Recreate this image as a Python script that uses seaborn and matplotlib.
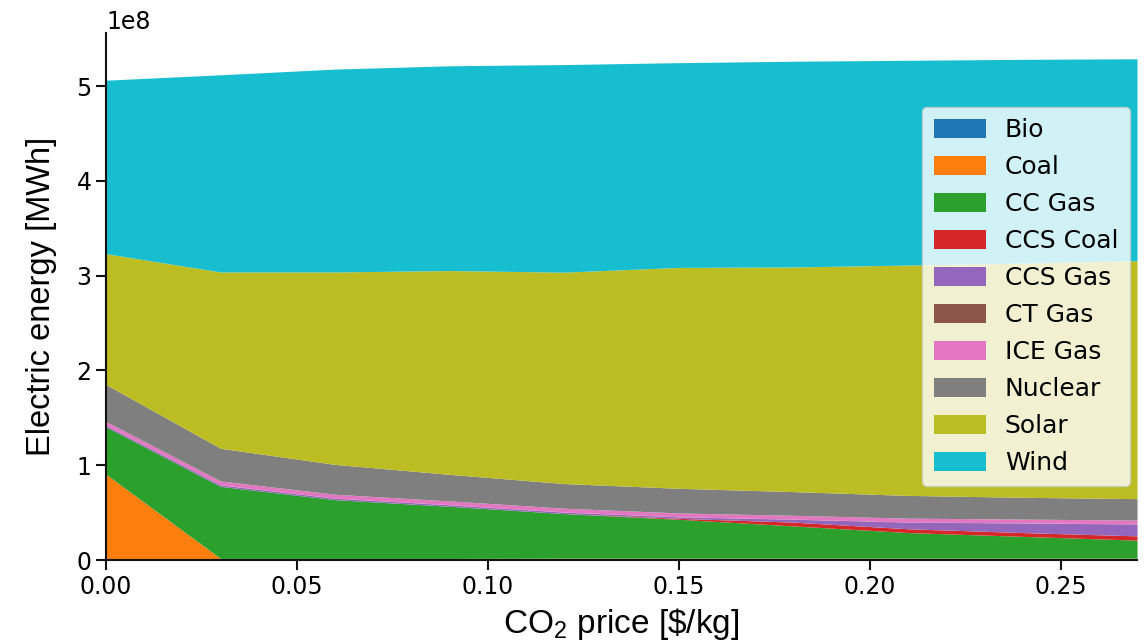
import numpy as np
import pandas as pd
import matplotlib
matplotlib.use("Agg")
import matplotlib.pyplot as plt
import seaborn as sns

# CO2 price [$/kg]
co2_price = [0.00, 0.03, 0.06, 0.09, 0.12, 0.15, 0.18, 0.21, 0.24, 0.27]

# Electric energy per technology [MWh] (values in units of 1e8)
bio      = [0.005, 0.005, 0.005, 0.005, 0.005, 0.005, 0.005, 0.005, 0.005, 0.005]
coal     = [0.90, 0.012, 0.012, 0.012, 0.015, 0.015, 0.015, 0.015, 0.015, 0.015]
cc_gas   = [0.50, 0.76, 0.62, 0.55, 0.47, 0.41, 0.34, 0.27, 0.23, 0.19]
ccs_coal = [0.0, 0.0, 0.0, 0.0, 0.0, 0.01, 0.04, 0.04, 0.04, 0.045]
ccs_gas  = [0.015, 0.015, 0.015, 0.015, 0.015, 0.015, 0.03, 0.07, 0.10, 0.125]
ct_gas   = [0.002, 0.002, 0.002, 0.002, 0.002, 0.002, 0.002, 0.002, 0.002, 0.002]
ice_gas  = [0.04, 0.04, 0.04, 0.04, 0.04, 0.04, 0.04, 0.04, 0.04, 0.04]
nuclear  = [0.39, 0.345, 0.315, 0.28, 0.26, 0.26, 0.25, 0.24, 0.23, 0.226]
solar    = [1.38, 1.86, 2.03, 2.15, 2.23, 2.33, 2.37, 2.43, 2.47, 2.51]
wind     = [1.83, 2.08, 2.14, 2.16, 2.19, 2.16, 2.17, 2.16, 2.15, 2.13]

labels = ["Bio", "Coal", "CC Gas", "CCS Coal", "CCS Gas", "CT Gas",
          "ICE Gas", "Nuclear", "Solar", "Wind"]
series = [bio, coal, cc_gas, ccs_coal, ccs_gas, ct_gas, ice_gas, nuclear, solar, wind]

df = pd.DataFrame({lab: np.array(s) * 1e8 for lab, s in zip(labels, series)})
df.insert(0, "CO2 price", co2_price)

sns.set_theme(style="ticks")
plt.rcParams["font.family"] = ["DejaVu Sans"]
plt.rcParams["text.color"] = "black"
plt.rcParams["axes.labelcolor"] = "black"
plt.rcParams["xtick.color"] = "black"
plt.rcParams["ytick.color"] = "black"
plt.rcParams["mathtext.fontset"] = "custom"
plt.rcParams["mathtext.rm"] = "Liberation Sans"
plt.rcParams["mathtext.it"] = "Liberation Sans:italic"
plt.rcParams["mathtext.bf"] = "Liberation Sans:bold"
colors = sns.color_palette("tab10", 10)

fig = plt.figure(figsize=(11.47, 6.43), dpi=100)
ax = fig.add_axes([0.0924, 0.129, 0.8989, 0.8197])

ax.stackplot(df["CO2 price"], *[df[lab] for lab in labels],
             labels=labels, colors=colors, linewidth=0)

ax.set_xlim(0, 0.27)
ax.set_ylim(0, 5.56e8)
ax.set_xticks([0.00, 0.05, 0.10, 0.15, 0.20, 0.25])
ax.xaxis.set_major_formatter(matplotlib.ticker.FormatStrFormatter("%.2f"))
ax.tick_params(axis="both", labelsize=17, length=7, width=1.5, color="#111111")
ax.yaxis.get_offset_text().set_fontsize(17)
for sp in ["left", "bottom"]:
    ax.spines[sp].set_linewidth(1.5)
    ax.spines[sp].set_color("#111111")
sns.despine(ax=ax)

ax.set_ylabel("Electric energy [MWh]", fontsize=23.5, family=["Liberation Sans"], labelpad=14)
ax.set_xlabel("CO$_2$ price [\\$/kg]", fontsize=24, family=["Liberation Sans"], labelpad=5)

leg = ax.legend(loc="center right", fontsize=18, labelspacing=0.52,
                handlelength=2.1, handleheight=0.8, handletextpad=0.75,
                borderaxespad=0.3, borderpad=0.45,
                frameon=True, fancybox=True, framealpha=0.8)

fig.savefig("out.png", dpi=100)
